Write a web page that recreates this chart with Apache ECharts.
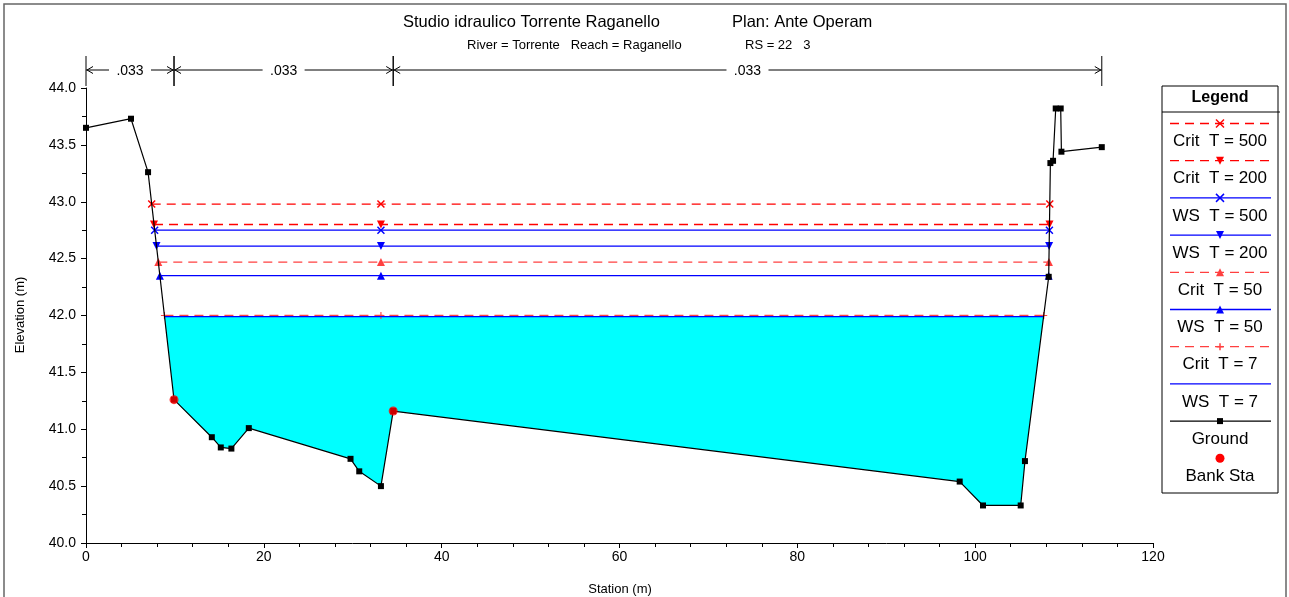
<!DOCTYPE html>
<html><head><meta charset="utf-8">
<script src="https://cdn.jsdelivr.net/npm/echarts@6/dist/echarts.min.js"></script>
<style>html,body{margin:0;padding:0;background:#fff}#c{width:1289px;height:597px}</style>
</head><body><div id="c"></div>
<script>
// ---- data ----
const groundStation = [0, 5.06, 6.98, 9.9, 14.15, 15.16, 16.35, 18.31, 29.75, 30.73, 33.17, 34.55, 98.26, 100.88, 105.12, 105.6, 108.27, 108.46, 108.76, 109.06, 109.62, 109.70, 114.24];
const groundElev    = [43.65, 43.73, 43.26, 41.26, 40.93, 40.84, 40.83, 41.01, 40.74, 40.63, 40.50, 41.16, 40.54, 40.33, 40.33, 40.72, 42.34, 43.34, 43.36, 43.82, 43.82, 43.44, 43.48];
const bankStation = [9.9, 34.55];
const bankElev    = [41.26, 41.16];
const profileNames = ['Crit  T = 500', 'Crit  T = 200', 'WS  T = 500', 'WS  T = 200', 'Crit  T = 50', 'WS  T = 50', 'Crit  T = 7', 'WS  T = 7'];
const profileElev  = [42.98, 42.80, 42.75, 42.61, 42.47, 42.35, 42.00, 41.99];
const profileLeft  = [7.39, 7.65, 7.72, 7.93, 8.13, 8.31, 8.82, 8.83];
const profileMid   = [33.17, 33.17, 33.17, 33.17, 33.17, 33.17, 33.17, 33.17];
const profileRight = [108.39, 108.36, 108.35, 108.32, 108.30, 108.27, 107.71, 107.69];
const manningStart = [0, 9.9, 34.55];
const manningEnd   = [9.9, 34.55, 114.24];
const manningN     = ['.033', '.033', '.033'];
const xTicks = {min: 0, max: 120, interval: 20};
const yTicks = {min: 40, max: 44, interval: 0.5};

// ---- styles ----
const FONT = '"Liberation Sans", Arial, Helvetica, sans-serif';
const RED = '#ff0000', RED2 = '#ff4040', BLUE = '#0000ff';
const profileStyle = [
  {color: RED,  dash: true,  sym: 'x'},
  {color: RED,  dash: true,  sym: 'down'},
  {color: BLUE, dash: false, sym: 'x'},
  {color: BLUE, dash: false, sym: 'down'},
  {color: RED2, dash: true,  sym: 'up'},
  {color: BLUE, dash: false, sym: 'up'},
  {color: RED2, dash: true,  sym: 'plus'},
  {color: BLUE, dash: false, sym: 'none'}
];
const SYM = {
  x: 'path://M0,1.3L1.3,0L5,3.7L8.7,0L10,1.3L6.3,5L10,8.7L8.7,10L5,6.3L1.3,10L0,8.7L3.7,5Z',
  plus: 'path://M4.2,0H5.8V4.2H10V5.8H5.8V10H4.2V5.8H0V4.2H4.2Z',
  up: 'triangle', down: 'triangle', none: 'none'
};

const series = [];
// cyan water area for WS T = 7
series.push({
  type: 'custom', silent: true, z: 1,
  data: [[profileLeft[7], profileElev[7]]],
  renderItem(params, api) {
    const L = profileLeft[7], R = profileRight[7], z = profileElev[7];
    const pts = [[L, z], [R, z]];
    for (let i = groundStation.length - 1; i >= 0; i--) {
      if (groundStation[i] > L && groundStation[i] < R) pts.push([groundStation[i], groundElev[i]]);
    }
    return {type: 'polygon', shape: {points: pts.map(p => api.coord(p))}, style: {fill: '#00ffff', stroke: null}};
  }
});
// water surfaces
profileNames.forEach((n, i) => {
  const st = profileStyle[i];
  series.push({
    type: 'line', name: n, z: 3 + i,
    data: [[profileLeft[i], profileElev[i]], [profileMid[i], profileElev[i]], [profileRight[i], profileElev[i]]],
    symbol: SYM[st.sym], symbolSize: st.sym === 'plus' ? 7 : 8,
    symbolRotate: st.sym === 'down' ? 180 : 0,
    showAllSymbol: true,
    lineStyle: {color: st.color, width: 1.3, type: st.dash ? [9, 6] : 'solid'},
    itemStyle: {color: st.color},
    emphasis: {disabled: true}
  });
});
// ground
series.push({
  type: 'line', name: 'Ground', z: 12,
  data: groundStation.map((s, i) => [s, groundElev[i]]),
  symbol: 'rect', symbolSize: 6, showAllSymbol: true,
  lineStyle: {color: '#000', width: 1.2}, itemStyle: {color: '#000'},
  emphasis: {disabled: true}
});
// bank stations
series.push({
  type: 'scatter', name: 'Bank Sta', z: 13,
  data: bankStation.map((s, i) => [s, bankElev[i]]),
  symbol: 'circle', symbolSize: 9, itemStyle: {color: RED},
  emphasis: {disabled: true}
});
// Manning's n annotation
series.push({
  type: 'custom', silent: true, z: 14, clip: false,
  data: manningStart.map((s, i) => [s, manningEnd[i]]),
  renderItem(params, api) {
    const i = params.dataIndex;
    const a = api.coord([api.value(0), yTicks.max]), b = api.coord([api.value(1), yTicks.max]);
    const top = a[1], y = top - 18;
    const x1 = a[0], x2 = b[0], cx = (x1 + x2) / 2, gap = 21;
    const st = {stroke: '#000', lineWidth: 1, fill: 'none'};
    return {type: 'group', children: [
      {type: 'line', shape: {x1: x1, y1: top - 32, x2: x1, y2: top - 2}, style: st},
      {type: 'line', shape: {x1: x2, y1: top - 32, x2: x2, y2: top - 2}, style: st},
      {type: 'line', shape: {x1: x1, y1: y, x2: cx - gap, y2: y}, style: st},
      {type: 'line', shape: {x1: cx + gap, y1: y, x2: x2, y2: y}, style: st},
      {type: 'polyline', shape: {points: [[x1 + 7, y - 3.5], [x1 + 1, y], [x1 + 7, y + 3.5]]}, style: st},
      {type: 'polyline', shape: {points: [[x2 - 7, y - 3.5], [x2 - 1, y], [x2 - 7, y + 3.5]]}, style: st},
      {type: 'text', style: {text: manningN[i], x: cx, y: y + 1, align: 'center', verticalAlign: 'middle', font: '14px ' + FONT, fill: '#000'}}
    ]};
  }
});

// ---- legend (drawn as graphics) ----
const LX1 = 1170, LX2 = 1271, LCX = 1220;
const graphics = [];
graphics.push({type: 'rect', silent: true, shape: {x: 4, y: 4, width: 1282, height: 600}, style: {fill: 'none', stroke: '#666', lineWidth: 1.5}});
graphics.push({type: 'text', silent: true, x: 403, y: 22, style: {text: 'Studio idraulico Torrente Raganello', font: '16.5px ' + FONT, fill: '#000', align: 'left', verticalAlign: 'middle'}});
graphics.push({type: 'text', silent: true, x: 732, y: 22, style: {text: 'Plan: Ante Operam', font: '16.5px ' + FONT, fill: '#000', align: 'left', verticalAlign: 'middle'}});
graphics.push({type: 'text', silent: true, x: 467, y: 45, style: {text: 'River = Torrente   Reach = Raganello', font: '13px ' + FONT, fill: '#000', align: 'left', verticalAlign: 'middle'}});
graphics.push({type: 'text', silent: true, x: 745, y: 45, style: {text: 'RS = 22   3', font: '13px ' + FONT, fill: '#000', align: 'left', verticalAlign: 'middle'}});
graphics.push({type: 'text', silent: true, x: 620, y: 589, style: {text: 'Station (m)', font: '13px ' + FONT, fill: '#000', align: 'center', verticalAlign: 'middle'}});
graphics.push({type: 'text', silent: true, x: 20, y: 315, rotation: Math.PI / 2, style: {text: 'Elevation (m)', font: '13px ' + FONT, fill: '#000', align: 'center', verticalAlign: 'middle'}});
graphics.push({type: 'rect', silent: true, shape: {x: 1162, y: 86, width: 116, height: 407}, style: {fill: '#fff', stroke: '#000', lineWidth: 1}});
graphics.push({type: 'line', silent: true, shape: {x1: 1162, y1: 112, x2: 1280, y2: 112}, style: {stroke: '#000', lineWidth: 1}});
graphics.push({type: 'text', silent: true, x: LCX, y: 98, style: {text: 'Legend', font: 'bold 16px ' + FONT, fill: '#000', align: 'center', verticalAlign: 'middle'}});

function legendMarker(sym, color, cx, cy) {
  const s = 4;
  if (sym === 'x') return [
    {type: 'line', silent: true, shape: {x1: cx - s, y1: cy - s, x2: cx + s, y2: cy + s}, style: {stroke: color, lineWidth: 1.5}},
    {type: 'line', silent: true, shape: {x1: cx - s, y1: cy + s, x2: cx + s, y2: cy - s}, style: {stroke: color, lineWidth: 1.5}}];
  if (sym === 'plus') return [
    {type: 'line', silent: true, shape: {x1: cx - 3.5, y1: cy, x2: cx + 3.5, y2: cy}, style: {stroke: color, lineWidth: 1.5}},
    {type: 'line', silent: true, shape: {x1: cx, y1: cy - 3.5, x2: cx, y2: cy + 3.5}, style: {stroke: color, lineWidth: 1.5}}];
  if (sym === 'up') return [{type: 'polygon', silent: true, shape: {points: [[cx - s, cy + s], [cx + s, cy + s], [cx, cy - s]]}, style: {fill: color}}];
  if (sym === 'down') return [{type: 'polygon', silent: true, shape: {points: [[cx - s, cy - s], [cx + s, cy - s], [cx, cy + s]]}, style: {fill: color}}];
  if (sym === 'rect') return [{type: 'rect', silent: true, shape: {x: cx - 3, y: cy - 3, width: 6, height: 6}, style: {fill: color}}];
  if (sym === 'circle') return [{type: 'circle', silent: true, shape: {cx: cx, cy: cy, r: 4.5}, style: {fill: color}}];
  return [];
}
const legendItems = profileNames.map((n, i) => ({name: n, color: profileStyle[i].color, dash: profileStyle[i].dash, sym: profileStyle[i].sym, line: true}));
legendItems.push({name: 'Ground', color: '#000', dash: false, sym: 'rect', line: true});
legendItems.push({name: 'Bank Sta', color: RED, dash: false, sym: 'circle', line: false});
legendItems.forEach((it, i) => {
  const ly = 123.5 + i * 37.2;
  if (it.line) graphics.push({type: 'line', silent: true, shape: {x1: LX1, y1: ly, x2: LX2, y2: ly}, style: {stroke: it.color, lineWidth: 1.3, lineDash: it.dash ? [9, 6] : null}});
  legendMarker(it.sym, it.color, LCX, ly).forEach(g => graphics.push(g));
  graphics.push({type: 'text', silent: true, x: LCX, y: ly + 18, style: {text: it.name, font: '17px ' + FONT, fill: '#000', align: 'center', verticalAlign: 'middle'}});
});

const chart = echarts.init(document.getElementById('c'), null, {renderer: 'canvas'});
chart.setOption({
  animation: false,
  backgroundColor: '#fff',
  grid: {left: 86, right: 136, top: 88, bottom: 54, containLabel: false},
  xAxis: {
    type: 'value', min: xTicks.min, max: xTicks.max, interval: xTicks.interval,
    axisLine: {show: true, onZero: false, lineStyle: {color: '#000', width: 1}},
    axisTick: {show: true, length: 5, lineStyle: {color: '#000'}},
    minorTick: {show: true, splitNumber: 5, length: 4, lineStyle: {color: '#000'}},
    splitLine: {show: false},
    axisLabel: {color: '#000', fontSize: 14, fontFamily: FONT, margin: 7}
  },
  yAxis: {
    type: 'value', min: yTicks.min, max: yTicks.max, interval: yTicks.interval,
    axisLine: {show: true, onZero: false, lineStyle: {color: '#000', width: 1}},
    axisTick: {show: true, length: 5, lineStyle: {color: '#000'}},
    minorTick: {show: true, splitNumber: 2, length: 4, lineStyle: {color: '#000'}},
    splitLine: {show: false},
    axisLabel: {color: '#000', fontSize: 14, fontFamily: FONT, margin: 10, formatter: v => v.toFixed(1)}
  },
  series: series,
  graphic: graphics
});
</script></body></html>
